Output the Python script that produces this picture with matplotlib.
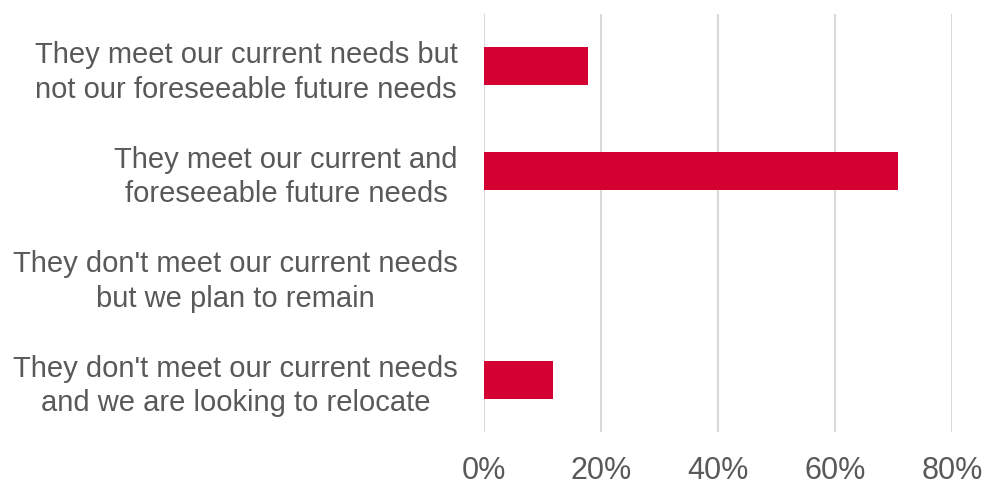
import matplotlib.pyplot as plt
from matplotlib.ticker import PercentFormatter

plt.rcParams['font.family'] = ['Liberation Sans', 'DejaVu Sans']

categories = [
    "They meet our current needs but\nnot our foreseeable future needs",
    "They meet our current and\nforeseeable future needs",
    "They don't meet our current needs\nbut we plan to remain",
    "They don't meet our current needs\nand we are looking to relocate",
]
shares = [0.178, 0.707, 0.0, 0.118]
ticks = [0, 0.2, 0.4, 0.6, 0.8]

text_grey = '#595959'
bar_red = '#D50032'

fig = plt.figure(figsize=(9.87, 4.84), dpi=100)
ax = fig.add_axes([0.4904, 0.1074, 0.4745, 0.8636])

pos = list(range(len(categories)))
ax.barh(pos, shares, height=0.36, color=bar_red, zorder=3)
ax.set_ylim(len(categories) - 0.5, -0.5)
ax.set_xlim(0, 0.8)

ax.set_xticks(ticks)
ax.xaxis.set_major_formatter(PercentFormatter(1.0, decimals=0))
ax.set_yticks(pos)
ax.set_yticklabels(categories, multialignment='center', linespacing=1.3)

ax.grid(axis='x', color='#d9d9d9', linewidth=1.5, zorder=0)
for s in ax.spines.values():
    s.set_visible(False)

ax.tick_params(axis='x', length=0, pad=17, labelsize=22, labelcolor=text_grey)
ax.tick_params(axis='y', length=0, pad=19, labelsize=21, labelcolor=text_grey)

fig.savefig('out.png', dpi=100)
